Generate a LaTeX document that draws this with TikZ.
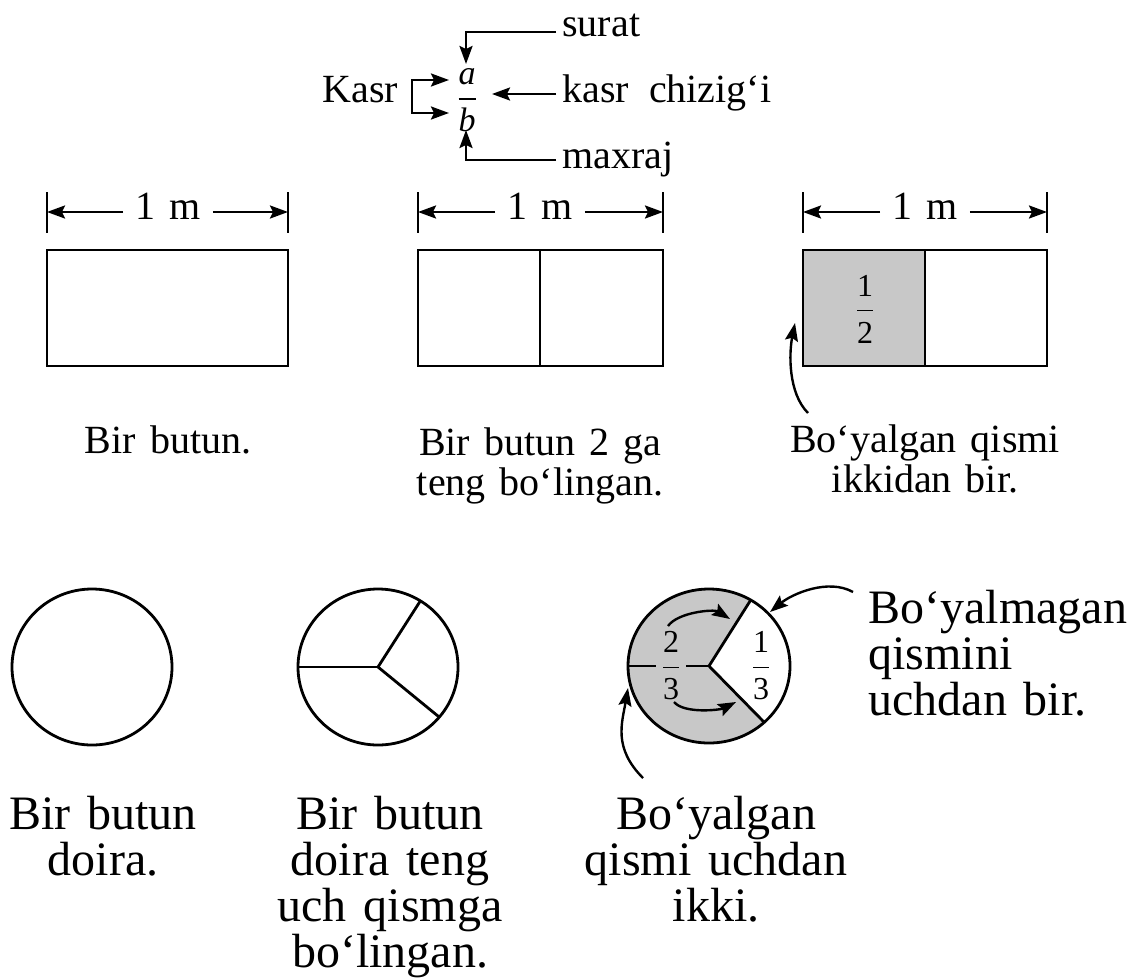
\documentclass[tikz,border=0pt]{standalone}
\usepackage{amsmath}
\usepackage{fontspec}
\setmainfont{Liberation Serif}
\usepackage{tikz}
\usetikzlibrary{arrows.meta,calc}
\definecolor{partgray}{HTML}{C8C8C8}
\newcommand\capfont{\fontsize{20}{20}\selectfont\spaceskip=0.35em plus 0.1em minus 0.05em\relax}
\newcommand\bigfont{\fontsize{24}{23}\selectfont\spaceskip=0.35em plus 0.1em minus 0.05em\relax}
\newcommand\partfrac[2]{$\dfrac{\text{#1}}{\text{#2}}$}
\tikzset{
  part/.style={line width=1.4pt},
  arr/.style={-{Stealth[length=9pt,width=6.5pt,inset=1.5pt]}, line width=1.2pt},
  lbl/.style={font=\capfont, inner sep=0pt},
  capt/.style={font=\capfont, align=center, inner sep=0pt, anchor=north},
  bigcapt/.style={font=\bigfont, align=center, inner sep=0pt, anchor=north},
  dimlbl/.style={font=\capfont, inner xsep=6pt, inner ysep=0pt},
  frc/.style={font=\fontsize{16}{16}\selectfont, inner sep=1pt}
}

\begin{document}
\begin{tikzpicture}[x=0.5pt,y=-0.5pt]
  \useasboundingbox (0,0) rectangle (1127,979);

  % fraction legend
  \node[frc, font=\fontsize{17}{17}\selectfont] (ab) at (467,100) {$\dfrac{\textit{a}}{\textit{b}}$};
  \node[lbl, anchor=base west] (kasr) at (322,103) {Kasr};
  \node[lbl, anchor=base west] (surat) at (562,37) {surat};
  \node[lbl, anchor=base west] (chiz) at (562,103) {kasr\hspace{0.5em}chizig‘i};
  \node[lbl, anchor=base west] (maxraj) at (562,168) {maxraj};
  \coordinate (sa) at (466,64);
  \coordinate (mb) at (466,130);
  \coordinate (fb) at (492,94);
  \coordinate (br) at (412,97);
  \coordinate (ka) at (449,80);
  \coordinate (kb) at (449,113);
  \draw[arr] ([shift={(-6,-5)}]surat.base west) -| (sa);
  \draw[arr] ([shift={(-6,-9)}]chiz.base west) -- (fb);
  \draw[arr] ([shift={(-6,-8)}]maxraj.base west) -| (mb);
  \draw[arr] (br) |- (ka);
  \draw[arr] (br) |- (kb);

  % dimension lines
  \node[dimlbl] (m1) at (168,206) {1 m};
  \node[dimlbl] (m2) at (540,206) {1 m};
  \node[dimlbl] (m3) at (925,206) {1 m};
  \coordinate (d1l) at (47,212);
  \coordinate (d1r) at (288,212);
  \coordinate (d2l) at (418,212);
  \coordinate (d2r) at (663,212);
  \coordinate (d3l) at (803,212);
  \coordinate (d3r) at (1047,212);
  \draw[part] (47,192) -- (47,233) (288,192) -- (288,233);
  \draw[part] (418,192) -- (418,233) (663,192) -- (663,233);
  \draw[part] (803,192) -- (803,233) (1047,192) -- (1047,233);
  \draw[arr] (m1.west |- d1l) -- (d1l);
  \draw[arr] (m1.east |- d1r) -- (d1r);
  \draw[arr] (m2.west |- d2l) -- (d2l);
  \draw[arr] (m2.east |- d2r) -- (d2r);
  \draw[arr] (m3.west |- d3l) -- (d3l);
  \draw[arr] (m3.east |- d3r) -- (d3r);

  % strips
  \draw[part] (47,250) rectangle (288,366);
  \draw[part] (418,250) rectangle (663,366);
  \draw[part] (540,250) -- (540,366);
  \fill[partgray] (803,250) rectangle (925,366);
  \draw[part] (803,250) rectangle (1047,366);
  \draw[part] (925,250) -- (925,366);
  \node[frc] (half) at (865,309) {\partfrac{1}{2}};
  \coordinate (rt) at (808,413);
  \coordinate (rh) at (795,323);
  \draw[arr] (rt) .. controls +(-20,-20) and +(-6,30) .. (rh);

  \node[capt] (capA) at (168,425) {Bir butun.};
  \node[capt] (capB) at (540,427) {Bir butun 2 ga\\teng bo‘lingan.};
  \node[capt] (capC) at (925,424) {Bo‘yalgan qismi\\ikkidan bir.};

  % circles
  \coordinate (c1) at (92,667);
  \coordinate (c2) at (378,667);
  \coordinate (c3) at (709,666);
  \draw[part] (c1) ellipse [x radius=80, y radius=78];

  \draw[part] (c2) -- ($(c2)+(180:80 and 78)$);
  \draw[part] (c2) -- ($(c2)+(-58:80 and 78)$);
  \draw[part] (c2) -- ($(c2)+(40:80 and 78)$);
  \draw[part] (c2) ellipse [x radius=80, y radius=78];

  \fill[partgray] (c3) -- ($(c3)+(-59:81 and 77)$)
    arc[start angle=-59, end angle=-313, x radius=81, y radius=77] -- cycle;
  \draw[part] (c3) -- ($(c3)+(180:81 and 77)$);
  \draw[part] (c3) -- ($(c3)+(-59:81 and 77)$);
  \draw[part] (c3) -- ($(c3)+(47:81 and 77)$);
  \node[frc, fill=partgray, inner xsep=2.5pt] (twothird) at (671,666) {\partfrac{2}{3}};
  \node[frc] (onethird) at (761,666) {\partfrac{1}{3}};
  \draw[part] (c3) ellipse [x radius=81, y radius=77];
  \coordinate (u1) at (668,626);
  \coordinate (u2) at (730,619);
  \coordinate (l1) at (674,702);
  \coordinate (l2) at (736,702);
  \draw[arr] (u1) .. controls +(10,-14) and +(-16,-10) .. (u2);
  \draw[arr] (l1) .. controls +(10,12) and +(-16,8) .. (l2);

  \node[bigcapt, anchor=north west, align=left] (bym) at (868,590) {Bo‘yalmagan\\qismini\\uchdan bir.};
  \coordinate (wt) at (770,612);
  \draw[arr] ([shift={(-15,2)}]bym.north west) .. controls +(-25,-14) and +(22,-18) .. (wt);

  \node[bigcapt] (capD) at (103,796) {Bir butun\\doira.};
  \node[bigcapt] (capE) at (390,796) {Bir butun\\doira teng\\uch qismga\\bo‘lingan.};
  \node[bigcapt] (capF) at (716,796) {Bo‘yalgan\\qismi uchdan\\ikki.};
  \coordinate (gt) at (643,778);
  \coordinate (gh) at (628,688);
  \draw[arr] (gt) .. controls +(-30,-30) and +(-6,35) .. (gh);
\end{tikzpicture}
\end{document}
